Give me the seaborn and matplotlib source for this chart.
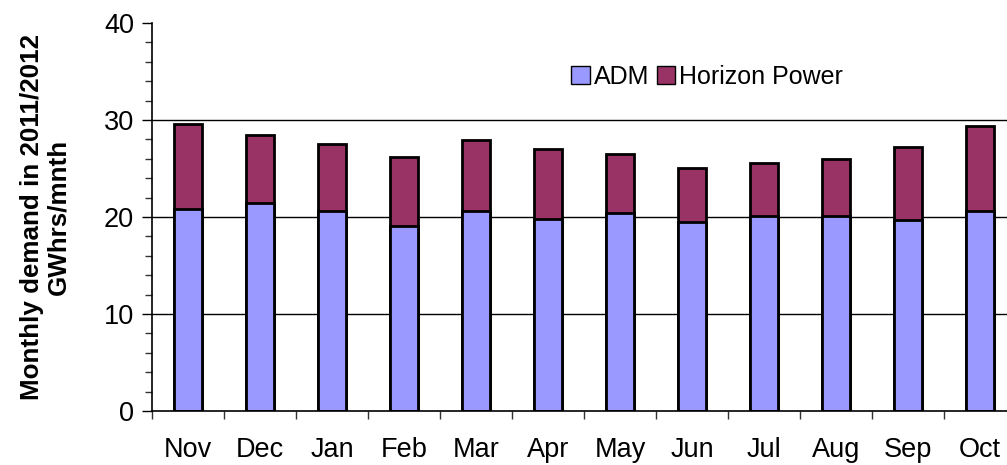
import numpy as np
import pandas as pd
import seaborn as sns
import matplotlib.pyplot as plt
from matplotlib.patches import Patch

months = ['Nov', 'Dec', 'Jan', 'Feb', 'Mar', 'Apr', 'May', 'Jun', 'Jul', 'Aug', 'Sep', 'Oct']
adm = [20.8, 21.4, 20.6, 19.1, 20.6, 19.8, 20.4, 19.5, 20.1, 20.1, 19.7, 20.6]
horizon = [8.8, 7.1, 6.9, 7.1, 7.3, 7.25, 6.1, 5.5, 5.5, 5.9, 7.55, 8.8]

df = pd.DataFrame({'month': months, 'ADM': adm, 'Horizon Power': horizon})
df['total'] = df['ADM'] + df['Horizon Power']

sns.set_theme(style='white')
plt.rcParams['font.family'] = ['Liberation Sans', 'DejaVu Sans']
plt.rcParams['text.color'] = 'black'

adm_color = '#9999FF'
hp_color = '#993366'

fig = plt.figure(figsize=(10.07, 4.65), dpi=100)
ax = fig.add_axes([152 / 1007, 1 - 411 / 465, 864 / 1007, 388 / 465])

sns.barplot(data=df, x='month', y='total', order=months, color=hp_color,
            width=0.4, edgecolor='black', linewidth=2, saturation=1, ax=ax)
sns.barplot(data=df, x='month', y='ADM', order=months, color=adm_color,
            width=0.4, edgecolor='black', linewidth=2, saturation=1, ax=ax)

ax.set_xlim(-0.5, 11.5)
ax.set_ylim(0, 40)
ax.set_yticks([0, 10, 20, 30, 40])
ax.set_yticks(np.arange(0, 41, 2), minor=True)
for y in (10, 20, 30):
    ax.axhline(y, color='black', lw=1, zorder=0)

ax.set_xticks(np.arange(-0.5, 12, 1), minor=True)
ax.tick_params(axis='x', which='major', length=0, pad=19, labelsize=19.5, colors='black')
ax.tick_params(axis='x', which='minor', length=6, width=1, direction='out', bottom=True, color='#333333')
ax.tick_params(axis='y', which='major', length=7, width=1, direction='out', left=True, pad=6,
               labelsize=19.5, colors='black')
ax.tick_params(axis='y', which='minor', length=5, width=1, direction='out', left=True, color='#333333')

for s in ('top', 'right'):
    ax.spines[s].set_visible(False)
for s in ('left', 'bottom'):
    ax.spines[s].set_color('black')
    ax.spines[s].set_linewidth(1.2)

ax.set_xlabel('')
ax.set_ylabel('Monthly demand in 2011/2012\nGWhrs/mnth', fontsize=18.7, fontweight='bold',
              labelpad=24, linespacing=1.15, color='black')

handles = [Patch(facecolor=adm_color, edgecolor='black', label='ADM'),
           Patch(facecolor=hp_color, edgecolor='black', label='Horizon Power')]
leg = ax.legend(handles=handles, loc='center', bbox_to_anchor=(707 / 1007, 1 - 77 / 465),
                bbox_transform=fig.transFigure, ncol=2, frameon=False, fontsize=18,
                handlelength=0.75, handleheight=0.75, handletextpad=0.15, columnspacing=0.3)
for t in leg.get_texts():
    t.set_color('black')

fig.savefig('out.png', dpi=100)
